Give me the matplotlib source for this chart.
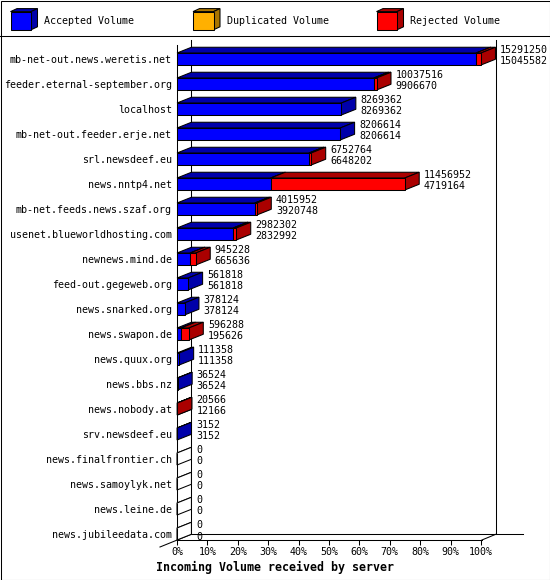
import matplotlib
matplotlib.use('Agg')
import matplotlib.pyplot as plt
from matplotlib.patches import Polygon, Rectangle

hosts = ['mb-net-out.news.weretis.net', 'feeder.eternal-september.org', 'localhost',
         'mb-net-out.feeder.erje.net', 'srl.newsdeef.eu', 'news.nntp4.net',
         'mb-net.feeds.news.szaf.org', 'usenet.blueworldhosting.com', 'newnews.mind.de',
         'feed-out.gegeweb.org', 'news.snarked.org', 'news.swapon.de', 'news.quux.org',
         'news.bbs.nz', 'news.nobody.at', 'srv.newsdeef.eu', 'news.finalfrontier.ch',
         'news.samoylyk.net', 'news.leine.de', 'news.jubileedata.com']
total = [15291250, 10037516, 8269362, 8206614, 6752764, 11456952, 4015952, 2982302,
         945228, 561818, 378124, 596288, 111358, 36524, 20566, 3152, 0, 0, 0, 0]
accepted = [15045582, 9906670, 8269362, 8206614, 6648202, 4719164, 3920748, 2832992,
            665636, 561818, 378124, 195626, 111358, 36524, 12166, 3152, 0, 0, 0, 0]
duplicated = [0] * 20
rejected = [245668, 130846, 0, 0, 104562, 6737788, 95204, 149310,
            279592, 0, 0, 400662, 0, 0, 8400, 0, 0, 0, 0, 0]
xticks = list(range(0, 101, 10))
series_names = ['Accepted Volume', 'Duplicated Volume', 'Rejected Volume']

light = ['#0000ff', '#ffb000', '#ff0000']
dark = ['#0000aa', '#aa7500', '#aa0000']
MONO = 'DejaVu Sans Mono'
LW = 0.75

W, H = 550, 580
fig = plt.figure(figsize=(W / 100, H / 100), dpi=100)

# overlay in pixel units for frame, legend and title
bg = fig.add_axes([0, 0, 1, 1])
bg.set_xlim(0, W)
bg.set_ylim(H, 0)
bg.axis('off')
bg.add_patch(Rectangle((0.5, 0.5), W - 1, H - 1, fill=False, ec='black', lw=LW))
bg.plot([0, W], [36, 36], color='black', lw=LW)

for i, name in enumerate(series_names):
    x0 = [10.5, 193, 376.5][i]
    y0, bw, bh, ddx, ddy = 11.6, 20.5, 18.2, 6.5, -3
    bg.add_patch(Polygon([(x0, y0), (x0 + bw, y0), (x0 + bw + ddx, y0 + ddy), (x0 + ddx, y0 + ddy)],
                         fc=dark[i], ec='black', lw=LW))
    bg.add_patch(Polygon([(x0 + bw, y0), (x0 + bw + ddx, y0 + ddy), (x0 + bw + ddx, y0 + bh + ddy),
                          (x0 + bw, y0 + bh)], fc=dark[i], ec='black', lw=LW))
    bg.add_patch(Rectangle((x0, y0), bw, bh, fc=light[i], ec='black', lw=LW))
    bg.text(x0 + 34, 21, name, family=MONO, fontsize=7.2, va='center', ha='left')

bg.text(W / 2, 567, 'Incoming Volume received by server', family=MONO, fontsize=8.4,
        fontweight='bold', ha='center', va='center')

# data axes: x in percent of the largest total, y in rows
ax = fig.add_axes([177 / W, 1 - 546.5 / H, 304 / W, 500 / H])
ax.set_xlim(0, 100)
ax.set_ylim(19.5, -0.5)
ax.patch.set_alpha(0)
for s in ['top', 'right']:
    ax.spines[s].set_visible(False)
ax.spines['left'].set_bounds(19.24, -0.56)
ax.spines['bottom'].set_position(('data', 19.24))
ax.spines['bottom'].set_bounds(0, 100.3)
for s in ['left', 'bottom']:
    ax.spines[s].set_linewidth(LW)

ax.set_yticks(range(len(hosts)))
ax.set_yticklabels(hosts, family=MONO, fontsize=7.2)
ax.tick_params(axis='y', length=0, pad=3.6)
ax.set_xticks(xticks)
ax.set_xticklabels([f'{t}%' for t in xticks], family=MONO, fontsize=7.2)
ax.tick_params(axis='x', direction='out', length=3.8, width=LW, pad=1.2)

dx, dy, h = 4.75, -0.23, 0.24
floor = 19.24
wall_kw = dict(color='black', lw=LW, clip_on=False, zorder=1)
ax.plot([dx, dx], [-0.76, floor + dy], **wall_kw)
ax.plot([104.9, 104.9], [-0.76, floor + dy], **wall_kw)
ax.plot([dx, 113.8], [floor + dy, floor + dy], **wall_kw)
ax.plot([-5.6, dx], [19.52, floor + dy], **wall_kw)
ax.plot([100.3, 104.9], [floor, floor + dy], **wall_kw)

vmax = max(total)


def box(x0, x1, y, fc_front, fc_side):
    kw = dict(ec='black', lw=LW, clip_on=False, zorder=3, joinstyle='miter')
    ax.add_patch(Polygon([(x0, y - h), (x1, y - h), (x1 + dx, y - h + dy), (x0 + dx, y - h + dy)],
                         fc=fc_side, **kw))
    ax.add_patch(Polygon([(x1, y - h), (x1 + dx, y - h + dy), (x1 + dx, y + h + dy), (x1, y + h)],
                         fc=fc_side, **kw))
    ax.add_patch(Polygon([(x0, y - h), (x1, y - h), (x1, y + h), (x0, y + h)], fc=fc_front, **kw))


for r in range(len(hosts)):
    segs = [accepted[r], duplicated[r], rejected[r]]
    start = 0.0
    if total[r] == 0:
        box(0, 0, r, 'white', 'white')
    for k, v in enumerate(segs):
        if v == 0:
            continue
        end = start + v / vmax * 100
        box(start, end, r, light[k], dark[k])
        start = end
    xe = total[r] / vmax * 100 + 6.25
    ax.text(xe, r - 0.36, str(total[r]), family=MONO, fontsize=7.2, va='center', ha='left',
            clip_on=False, zorder=4)
    ax.text(xe, r + 0.1, str(accepted[r]), family=MONO, fontsize=7.2, va='center', ha='left',
            clip_on=False, zorder=4)

fig.savefig('out.png', dpi=100)
